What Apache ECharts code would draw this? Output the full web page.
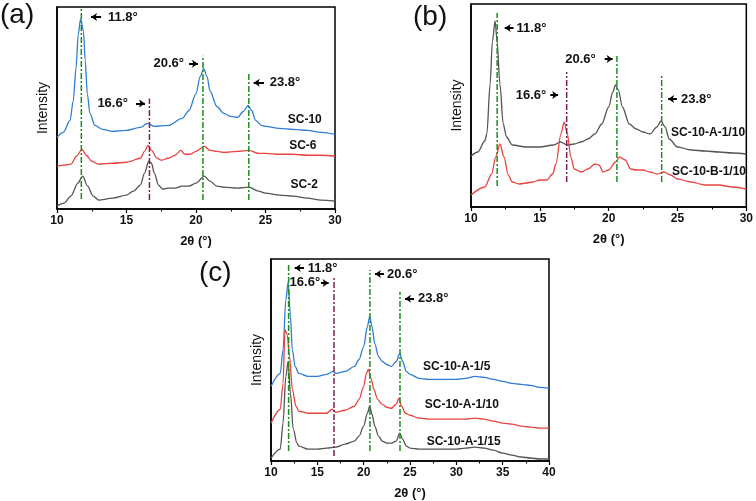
<!DOCTYPE html>
<html><head><meta charset="utf-8">
<script src="https://cdn.jsdelivr.net/npm/echarts@6/dist/echarts.min.js"></script>
<style>html,body{margin:0;padding:0;background:#fff}#c{width:756px;height:501px}</style>
</head><body><div id="c"></div><script>
// ---------- data (2θ in degrees, intensity in arbitrary units) ----------
const xTicksAB = [10, 15, 20, 25, 30];
const xTicksC = [10, 15, 20, 25, 30, 35, 40];
const peakLabels = ['11.8°', '16.6°', '20.6°', '23.8°'];

// panel (a)
const namesA = ['SC-10', 'SC-6', 'SC-2'];
const sc10 = [[10,72],[10.45,77],[10.94,89],[11.17,109],[11.37,142],[11.53,176],[11.7,191],[11.9,179],[12.03,149],[12.18,116],[12.37,96],[12.73,84],[13.3,80],[14,78],[15,79],[16,82],[16.5,86],[17,83],[18,84],[19,91],[19.5,99],[20,116],[20.3,133],[20.55,141],[20.8,133],[21,119],[21.5,103],[22,96],[22.5,93],[23,92],[23.4,98],[23.75,104],[24,99],[24.3,89],[24.7,84],[25,83],[26,81],[27,80],[28,79],[29,77],[30,75]];
const sc6 = [[10,43],[10.5,44],[11,45],[11.4,53],[11.8,60],[12.1,54],[12.5,48],[13,45],[14,46],[15,47],[16,51],[16.3,58],[16.55,64],[16.8,59],[17.2,51],[17.5,49],[18,51],[18.5,54],[18.9,59],[19.2,55],[19.6,55],[20,58],[20.6,63],[21,59],[21.5,58],[22,57],[23,58],[23.8,59],[24.5,56],[25,56],[26,55],[27,55],[28,54],[29,54],[30,53]];
const sc2 = [[10,3],[10.5,6],[11,13],[11.5,26],[11.85,33],[12.2,23],[12.6,13],[13,9],[14,11],[15,14],[15.5,18],[16,24],[16.3,36],[16.6,48],[16.8,46],[17,36],[17.3,24],[17.6,20],[18,21],[18.5,21],[19,23],[19.5,23],[20,26],[20.6,33],[21,28],[21.5,23],[22,22],[23,21],[23.8,22],[24.5,18],[25,16],[26,14],[27,13],[28,11],[29,9],[30,8]];

// panel (b)
const namesB = ['SC-10-A-1/10', 'SC-10-B-1/10'];
const sc10A10b = [[10,51],[10.5,55],[11,66],[11.15,73],[11.39,123],[11.55,165],[11.75,186],[11.9,165],[12.1,123],[12.34,83],[12.58,70],[13,62],[14,60],[15,60],[16,62],[16.5,65],[17,62],[17.5,63],[18,65],[18.5,68],[19,73],[19.5,83],[20,100],[20.3,115],[20.5,122],[20.7,117],[21,100],[21.5,83],[22,78],[22.5,75],[23,73],[23.5,80],[23.8,86],[24.1,80],[24.4,68],[25,60],[26,57],[27,56],[28,55],[29,54],[30,53]];
const sc10B10b = [[10,12],[11,20],[11.5,33],[11.8,50],[12.1,63],[12.4,50],[12.7,32],[13,25],[13.5,23],[14,24],[14.5,25],[15,27],[15.5,27],[15.93,33],[16.17,43],[16.53,73],[16.77,85],[17,73],[17.25,50],[17.5,38],[18,35],[18.5,38],[19,43],[19.3,42],[19.6,35],[20,37],[20.5,45],[20.8,50],[21.2,47],[21.6,38],[22,37],[22.5,37],[23,35],[23.5,33],[24,35],[24.5,32],[25,28],[26,25],[27,22],[28,22],[29,20],[30,18]];

// panel (c)
const namesC = ['SC-10-A-1/5', 'SC-10-A-1/10', 'SC-10-A-1/15'];
const sc10A5 = [[10,75],[11,88],[11.3,112],[11.6,162],[11.85,180],[12.1,145],[12.3,112],[12.6,95],[13,88],[14,85],[15,85],[16,87],[16.7,90],[17,88],[18,90],[19,95],[19.5,102],[20,115],[20.4,135],[20.65,145],[20.9,135],[21.2,118],[21.6,105],[22,100],[22.5,97],[23,95],[23.5,100],[23.9,108],[24.2,100],[24.6,90],[25,87],[26,83],[27,82],[28,82],[29,82],[30,82],[31,83],[32,85],[33,84],[34,82],[35,80],[36,78],[37,77],[38,76],[39,74],[40,73]];
const sc10A10c = [[10,38],[11,52],[11.3,78],[11.51,132],[11.75,127],[12,105],[12.3,72],[12.7,55],[13,50],[14,48],[15,48],[16,48],[16.6,52],[17,49],[18,51],[19,55],[19.5,62],[20,75],[20.3,88],[20.5,92],[20.8,83],[21.1,72],[21.5,62],[22,57],[22.5,54],[23,53],[23.5,57],[23.8,63],[24.1,55],[24.5,48],[25,46],[26,43],[27,42],[28,42],[29,42],[30,42],[31,42],[32,43],[33,42],[34,40],[35,38],[36,37],[37,35],[38,34],[39,33],[40,33]];
const sc10A15 = [[10,3],[11,12],[11.3,38],[11.6,85],[11.85,100],[12.1,68],[12.4,32],[12.8,18],[13,15],[14,12],[15,12],[16,13],[17,14],[18,17],[19,20],[19.5,25],[20,35],[20.4,48],[20.65,55],[20.9,47],[21.2,35],[21.6,25],[22,20],[22.5,18],[23,18],[23.5,20],[23.9,28],[24.2,22],[24.6,15],[25,13],[26,12],[27,12],[28,12],[29,12],[30,12],[31,13],[32,14],[33,13],[34,11],[35,8],[36,6],[37,4],[38,3],[39,2],[40,2]];

// reference peak lines: position, top, bottom
const refPosA = [11.75, 16.65, 20.5, 23.8];
const refTopA = [202, 111, 154, 136];
const refBotA = [10, 9, 9, 9];
const refPosB = [11.9, 16.95, 20.6, 23.85];
const refTopB = [194, 135, 153, 132];
const refBotB = [21, 25, 25, 25];
const refPosC = [11.9, 16.8, 20.68, 23.92];
const refTopC = [199, 184, 192, 170];
const refBotC = [10, 5, 10, 10];

// annotations: [text x, arrow tail x, arrow head x, y, text side]
const annA = [[13.67, 13.17, 12.45, 193, 'after'], [15.1, 15.68, 16.33, 106, 'before'], [19.14, 19.5, 20.14, 146, 'before'], [25.3, 24.89, 24.15, 127, 'after']];
const annB = [[13.31, 13.09, 12.45, 179, 'after'], [15.47, 15.76, 16.33, 112, 'before'], [19.06, 19.71, 20.29, 148, 'before'], [25.25, 24.96, 24.32, 108, 'after']];
const annC = [[13.96, 13.56, 12.56, 194, 'after'], [15.3, 15.39, 16.22, 179, 'before'], [22.51, 22.19, 21.22, 188, 'after'], [25.86, 25.43, 24.46, 163, 'after']];

// series label anchors [x, y]
const labPosA = [[26.6, 90], [26.7, 64], [26.8, 24]];
const labPosB = [[24.53, 74], [24.6, 35]];
const labPosC = [[26.4, 95], [26.6, 57], [26.8, 19]];

// ---------- chart ----------
const FONT = 'Liberation Sans, Arial, sans-serif';
const BLUE = '#2f7cd3', RED = '#e8433f', GRAY = '#545454';
const GREEN = '#1c8c1c', PURPLE = '#7c1f52';

const grids = [
  {left: 57, top: 7, width: 278, height: 202},
  {left: 471, top: 4, width: 278, height: 203},
  {left: 271, top: 259, width: 278, height: 203}
];

const panels = [
  {data: [sc10, sc6, sc2], ticks: xTicksAB, names: namesA, colors: [BLUE, RED, GRAY], labPos: labPosA,
   refPos: refPosA, refTop: refTopA, refBot: refBotA, ann: annA},
  {data: [sc10A10b, sc10B10b], ticks: xTicksAB, names: namesB, colors: [GRAY, RED], labPos: labPosB,
   refPos: refPosB, refTop: refTopB, refBot: refBotB, ann: annB},
  {data: [sc10A5, sc10A10c, sc10A15], ticks: xTicksC, names: namesC, colors: [BLUE, RED, GRAY], labPos: labPosC,
   refPos: refPosC, refTop: refTopC, refBot: refBotC, ann: annC}
];

const option = {
  animation: false,
  backgroundColor: '#fff',
  textStyle: {fontFamily: FONT},
  grid: grids.map(g => Object.assign({show: true, borderColor: '#000', borderWidth: 1.5, backgroundColor: 'transparent'}, g)),
  xAxis: [], yAxis: [], series: [],
  graphic: [
    {type: 'text', left: 0, top: 1, style: {text: '(a)', font: '28px ' + FONT, fill: '#111'}},
    {type: 'text', left: 413, top: 3, style: {text: '(b)', font: '28px ' + FONT, fill: '#111'}},
    {type: 'text', left: 199, top: 259, style: {text: '(c)', font: '28px ' + FONT, fill: '#111'}}
  ]
};

panels.forEach((p, i) => {
  option.xAxis.push({
    gridIndex: i, type: 'value', min: p.ticks[0], max: p.ticks[p.ticks.length - 1], interval: 5,
    axisLine: {lineStyle: {color: '#000', width: 1.5}},
    axisTick: {inside: false, length: 4, lineStyle: {color: '#000', width: 1.2}},
    minorTick: {show: true, splitNumber: 2, length: 2.5, lineStyle: {color: '#000', width: 1}},
    splitLine: {show: false},
    axisLabel: {color: '#111', fontWeight: 'bold', fontSize: 12, fontFamily: FONT, margin: 6},
    name: '2θ (°)', nameLocation: 'middle', nameGap: 26,
    nameTextStyle: {color: '#111', fontWeight: 'bold', fontSize: 13, fontFamily: FONT}
  });
  option.yAxis.push({
    gridIndex: i, type: 'value', min: 0, max: 203,
    axisLine: {show: true, lineStyle: {color: '#000', width: 1.5}},
    axisTick: {show: false}, axisLabel: {show: false}, splitLine: {show: false},
    name: 'Intensity', nameLocation: 'middle', nameGap: 7,
    nameTextStyle: {color: '#111', fontSize: 14, fontFamily: FONT}
  });
  p.data.forEach((d, k) => {
    option.series.push({
      type: 'line', xAxisIndex: i, yAxisIndex: i, data: d, showSymbol: false,
      smooth: 0.3, smoothMonotone: 'x', z: 2,
      lineStyle: {color: p.colors[k], width: 1.3}, itemStyle: {color: p.colors[k]},
      markPoint: {
        silent: true, symbol: 'rect', symbolSize: 0,
        data: [{coord: p.labPos[k], label: {show: true, position: 'right', distance: 0,
          formatter: p.names[k], color: '#111', fontWeight: 'bold', fontSize: 12, fontFamily: FONT}}]
      }
    });
  });
  p.refPos.forEach((x, k) => {
    const a = p.ann[k];
    option.series.push({
      type: 'line', xAxisIndex: i, yAxisIndex: i, showSymbol: false, z: 3,
      data: [[x, p.refBot[k]], [x, p.refTop[k]]],
      lineStyle: {color: k === 1 ? PURPLE : GREEN, width: 1.5, type: [6, 2, 2, 2]},
      markLine: {
        silent: true, symbol: ['none', 'arrow'], symbolSize: 6,
        lineStyle: {color: '#000', width: 2, type: 'solid'}, label: {show: false},
        data: [[{coord: [a[1], a[3]]}, {coord: [a[2], a[3]]}]]
      },
      markPoint: {
        silent: true, symbol: 'rect', symbolSize: 0,
        data: [{coord: [a[0], a[3]], label: {show: true, position: a[4] === 'after' ? 'right' : 'left', distance: 0,
          formatter: peakLabels[k], color: '#111', fontWeight: 'bold', fontSize: 13, fontFamily: FONT}}]
      }
    });
  });
});

const chart = echarts.init(document.getElementById('c'), null, {renderer: 'canvas'});
chart.setOption(option);
</script></body></html>
